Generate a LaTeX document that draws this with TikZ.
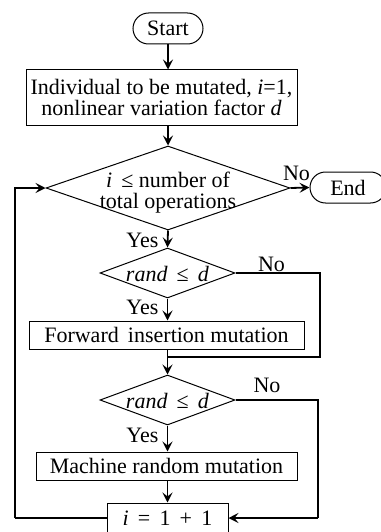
\documentclass[tikz,border=0pt]{standalone}
\usepackage{fontspec}
\setmainfont{Liberation Serif}
\usetikzlibrary{shapes.misc,shapes.geometric,arrows.meta}
\begin{document}
\begin{tikzpicture}[x=1pt,y=-1pt,
  font=\fontsize{22}{21}\selectfont,
  box/.style={draw, line width=1pt, inner sep=0pt, align=center},
  term/.style={draw, rounded rectangle, line width=1pt, inner sep=0pt},
  dia/.style={draw, diamond, line width=1pt, inner sep=0pt},
  arr/.style={line width=1.8pt, -{Stealth[length=10pt,width=10pt,inset=4pt]}},
  noline/.style={line width=2.8pt},
  lab/.style={inner sep=0pt, align=center}]
\useasboundingbox (0,0) rectangle (380,532);

\node[term, minimum width=70pt, minimum height=31pt] (start) at (168,28.5) {Start};
\node[box, minimum width=271pt, minimum height=55pt] (init) at (161.5,97.5)
  {Individual to be mutated, \textit{i}=1,\\nonlinear variation factor \textit{d}};
\node[dia, minimum width=244pt, minimum height=84pt] (d1) at (168,188) {};
\node[lab] (d1t) at (168,193) {\textit{i}\, ≤ number of\\total operations};
\node[term, minimum width=76pt, minimum height=31pt] (end) at (348,187.5) {End};
\node[lab] (no1) at (296.5,173.5) {No};
\node[lab] (yes1) at (142.5,240) {Yes};

\node[dia, minimum width=135pt, minimum height=50pt] (d2) at (167.5,273) {};
\node[lab] (d2t) at (167.5,274) {\textit{rand}\, ≤\, \textit{d}};
\node[lab] (no2) at (271.5,264) {No};
\node[lab] (yes2) at (142.5,307) {Yes};
\node[box, minimum width=275pt, minimum height=28pt] (fwd) at (166.5,335) {Forward\, insertion mutation};
\coordinate (j1) at (320,357);

\node[dia, minimum width=135pt, minimum height=50pt] (d3) at (167.5,400) {};
\node[lab] (d3t) at (167.5,401) {\textit{rand}\, ≤\, \textit{d}};
\node[lab] (no3) at (267,385.5) {No};
\node[lab] (yes3) at (142.5,435) {Yes};
\node[box, minimum width=261pt, minimum height=28pt] (mach) at (166.5,466) {Machine random mutation};
\node[box, minimum width=121pt, minimum height=30pt] (inc) at (167.5,518) {\textit{i}\, =\, 1\, +\, 1};
\coordinate (r3) at (318,518);
\coordinate (l1) at (15,518);

\draw[arr] (start) -- (start |- init.north);
\draw[arr] (start |- init.south) -- (d1.north);
\draw[arr] (d1.east) -- (end.west);
\draw[arr] (d1.south) -- (d2.north);
\draw[arr] (d2.south) -- (d2.south |- fwd.north);
\draw[noline] (d2.east) -| (j1) -- (j1 -| d2.south);
\draw[arr] (d2.south |- fwd.south) -- (d3.north);
\draw[arr] (d3.south) -- (d3.south |- mach.north);
\draw[arr] (d3.south |- mach.south) -- (inc.north);
\draw[noline] (d3.east) -| (r3);
\draw[arr] (r3) -- (inc.east);
\draw[line width=1.8pt] (inc.west) -- (l1);
\draw[arr] (l1) |- (d1.west);
\end{tikzpicture}
\end{document}
